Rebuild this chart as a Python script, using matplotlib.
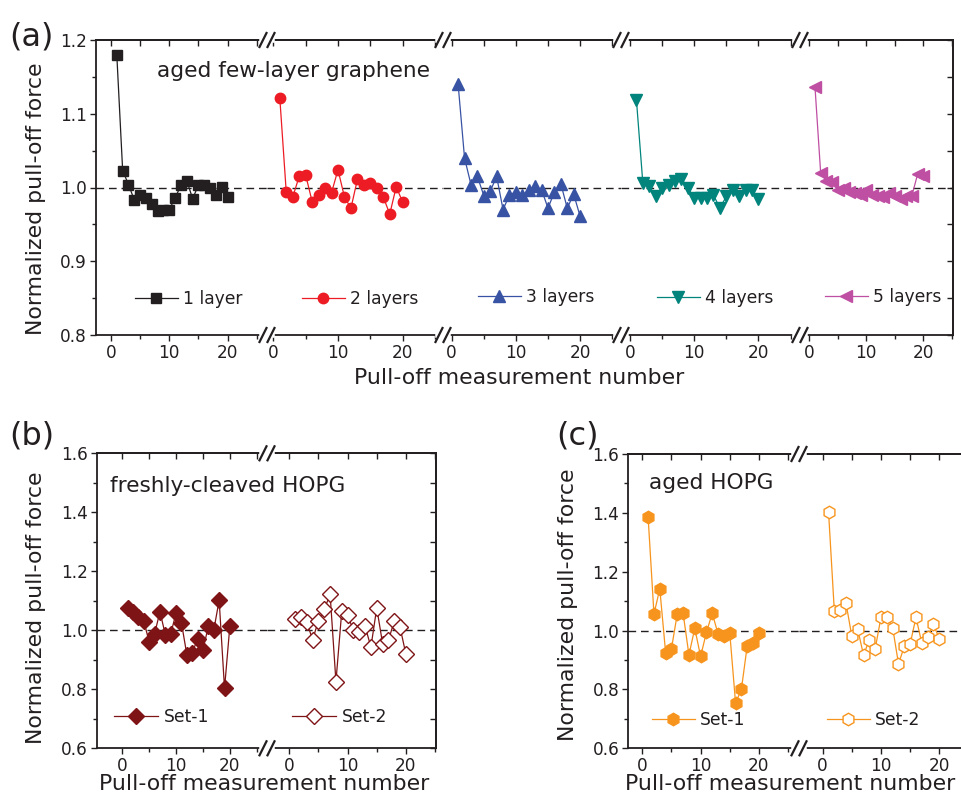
import matplotlib
matplotlib.use("Agg")
import matplotlib.pyplot as plt
from matplotlib.lines import Line2D
from matplotlib.ticker import MultipleLocator, FormatStrFormatter
import numpy as np

# ---------------- data ----------------
meas = list(range(1, 21))

one_layer = [1.179, 1.023, 1.004, 0.983, 0.990, 0.986, 0.978, 0.968, 0.970, 0.970,
             0.986, 1.003, 1.009, 0.985, 1.003, 1.004, 1.000, 0.990, 1.001, 0.987]
two_layers = [1.122, 0.994, 0.987, 1.015, 1.017, 0.981, 0.990, 1.000, 0.993, 1.024,
              0.987, 0.972, 1.011, 1.004, 1.006, 1.000, 0.987, 0.964, 1.001, 0.980]
three_layers = [1.140, 1.040, 1.004, 1.015, 0.989, 0.995, 1.015, 0.970, 0.990, 0.994,
                0.990, 0.996, 1.002, 0.997, 0.972, 0.994, 1.005, 0.972, 0.991, 0.961]
four_layers = [1.119, 1.006, 1.002, 0.988, 1.000, 1.004, 1.009, 1.012, 1.000, 0.986,
               0.986, 0.986, 0.990, 0.972, 0.988, 0.997, 0.988, 0.997, 0.997, 0.984]
five_layers = [1.136, 1.019, 1.009, 1.007, 0.997, 1.000, 0.994, 0.993, 0.990, 0.997,
               0.990, 0.989, 0.987, 0.993, 0.989, 0.985, 0.989, 0.989, 1.018, 1.015]

fresh_set1 = [1.076, 1.063, 1.046, 1.031, 0.960, 0.988, 1.063, 0.985, 0.988, 1.059,
              1.025, 0.917, 0.923, 0.972, 0.934, 1.014, 1.000, 1.102, 0.803, 1.016]
fresh_set2 = [1.039, 1.045, 1.027, 0.968, 1.033, 1.071, 1.122, 0.826, 1.065, 1.051,
              1.000, 0.993, 1.014, 0.943, 1.076, 0.955, 0.966, 1.031, 1.010, 0.919]

aged_set1 = [1.385, 1.056, 1.142, 0.925, 0.938, 1.057, 1.059, 0.917, 1.008, 0.912,
             0.994, 1.059, 0.988, 0.983, 0.993, 0.753, 0.801, 0.949, 0.957, 0.993]
aged_set2 = [1.404, 1.065, 1.070, 1.093, 0.980, 1.005, 0.917, 0.968, 0.938, 1.045,
             1.045, 1.010, 0.887, 0.946, 0.954, 1.045, 0.957, 0.978, 1.022, 0.971]

layer_labels = ["1 layer", "2 layers", "3 layers", "4 layers", "5 layers"]
set_labels = ["Set-1", "Set-2"]

# ---------------- style ----------------
TXT = "#231f20"
plt.rcParams["font.family"] = ["DejaVu Sans"]
plt.rcParams["text.color"] = TXT
plt.rcParams["axes.edgecolor"] = TXT
plt.rcParams["xtick.color"] = TXT
plt.rcParams["ytick.color"] = TXT

W, H = 961, 800
fig = plt.figure(figsize=(W / 100, H / 100), dpi=100)


def fx(px):
    return px / W


def fy(py):
    return 1 - py / H


TICK_FS = 12.2
LAB_FS = 15.8
ANN_FS = 15.6
LEG_FS = 12.3


def make_segment(L, R, T, B, xlim, ylim, ymaj, ymin, first, last, right_spine=True):
    ax = fig.add_axes([fx(L), fy(B), (R - L) / W, (B - T) / H])
    ax.set_xlim(*xlim)
    ax.set_ylim(*ylim)
    ax.patch.set_alpha(0)
    for s in ax.spines.values():
        s.set_linewidth(1.3)
    ax.spines["left"].set_visible(first)
    ax.spines["right"].set_visible(last and right_spine)
    ax.xaxis.set_major_locator(MultipleLocator(10))
    ax.xaxis.set_minor_locator(MultipleLocator(5))
    ax.tick_params(axis="x", which="major", direction="out", length=4.5, width=1.0,
                   labelsize=TICK_FS, pad=2, top=False)
    ax.tick_params(axis="x", which="minor", direction="out", length=3, width=1.0, top=False)
    sec = ax.secondary_xaxis("top")
    sec.xaxis.set_major_locator(MultipleLocator(5))
    sec.tick_params(axis="x", which="major", direction="in", length=4, width=1.0,
                    labeltop=False)
    sec.spines["top"].set_linewidth(1.3)
    if first:
        ax.yaxis.set_major_locator(MultipleLocator(ymaj))
        ax.yaxis.set_minor_locator(MultipleLocator(ymin))
        ax.yaxis.set_major_formatter(FormatStrFormatter("%.1f"))
        ax.tick_params(axis="y", which="major", direction="out", length=4.5, width=1.0,
                       labelsize=TICK_FS, pad=2, right=False)
        ax.tick_params(axis="y", which="minor", direction="out", length=3.2, width=1.0,
                       right=False)
    else:
        ax.tick_params(axis="y", which="both", left=False, right=False, labelleft=False)
    if last and right_spine:
        secy = ax.secondary_yaxis("right")
        secy.yaxis.set_major_locator(MultipleLocator(ymin))
        secy.tick_params(axis="y", which="major", direction="in", length=4, width=1.0,
                         labelright=False)
        secy.spines["right"].set_linewidth(1.3)
    ax.axhline(1.0, color=TXT, lw=1.0, dashes=(5.5, 3.5), zorder=1)
    return ax


def draw_break(xpx, ypx):
    fig.add_artist(Line2D([fx(xpx - 5), fx(xpx + 5)], [fy(ypx), fy(ypx)], color="white",
                          lw=4, transform=fig.transFigure, zorder=20))
    for dx in (-4, 4):
        fig.add_artist(Line2D([fx(xpx + dx - 3.5), fx(xpx + dx + 3.5)],
                              [fy(ypx + 7), fy(ypx - 7)], color=TXT, lw=1.6,
                              transform=fig.transFigure, zorder=21))


def seg_legend(ax, handle, label, x0, y0, hl=2.5):
    ax.legend([handle], [label], loc="center left", bbox_to_anchor=(fx(x0), fy(y0)),
              bbox_transform=fig.transFigure, frameon=False, fontsize=LEG_FS,
              borderpad=0, borderaxespad=0, handlelength=hl, handletextpad=0.3,
              numpoints=1)


# ---------------- panel (a) ----------------
Ta, Ba = 40, 335
a_segs = [  # (L, R, p0, scale)
    (96, 267, 111.0, 5.83),
    (267, 443, 273.3, 6.47),
    (443, 621, 451.7, 6.42),
    (621, 800, 630.0, 6.42),
    (800, 953, 809.3, 5.70),
]
a_data = [one_layer, two_layers, three_layers, four_layers, five_layers]
a_colors = ["#231f20", "#ed1c24", "#3953a4", "#00847c", "#bf4fa3"]
a_markers = ["s", "o", "^", "v", "<"]
a_ms = [6.5, 7.5, 8.5, 8.5, 8.5]
a_leg = [(135, 299), (302, 299), (478, 297), (657, 298), (825, 297)]

for i, (L, R, p0, s) in enumerate(a_segs):
    ax = make_segment(L, R, Ta, Ba, ((L - p0) / s, (R - p0) / s), (0.8, 1.2), 0.1, 0.05,
                      i == 0, i == 4)
    h, = ax.plot(meas, a_data[i], color=a_colors[i], marker=a_markers[i], ms=a_ms[i],
                 lw=0.9, mec=a_colors[i], mfc=a_colors[i], zorder=3, clip_on=False)
    seg_legend(ax, h, layer_labels[i], *a_leg[i], hl=2.5)
for xb in (267, 443, 621, 800):
    draw_break(xb, Ta)
    draw_break(xb, Ba)

fig.text(fx(157), fy(77), "aged few-layer graphene", fontsize=ANN_FS, va="baseline", ha="left")
fig.text(fx(36), fy(199), "Normalized pull-off force", fontsize=LAB_FS, rotation=90,
         ha="center", va="center")
fig.text(fx(519), fy(378), "Pull-off measurement number", fontsize=LAB_FS,
         ha="center", va="center")
fig.text(fx(9), fy(45), "(a)", fontsize=23, va="baseline", ha="left")

# ---------------- panel (b) ----------------
Tb, Bb = 453.3, 748.3
b_segs = [
    (96.7, 267, 122.3, 5.38),
    (267, 436, 289.3, 5.83),
]
b_color = "#7f1416"
b_data = [fresh_set1, fresh_set2]
b_mfc = [b_color, "white"]
b_leg = [(114, 717), (292, 717)]
for i, (L, R, p0, s) in enumerate(b_segs):
    ax = make_segment(L, R, Tb, Bb, ((L - p0) / s, (R - p0) / s), (0.6, 1.6), 0.2, 0.1,
                      i == 0, i == 1)
    h, = ax.plot(meas, b_data[i], color=b_color, marker="D", ms=7.8, lw=0.9,
                 mec=b_color, mfc=b_mfc[i], mew=1.0, zorder=3)
    seg_legend(ax, h, set_labels[i], *b_leg[i], hl=2.6)
draw_break(267, Tb)
draw_break(267, Bb)
fig.text(fx(110), fy(492), "freshly-cleaved HOPG", fontsize=ANN_FS, va="baseline", ha="left")
fig.text(fx(36), fy(608), "Normalized pull-off force", fontsize=LAB_FS, rotation=90,
         ha="center", va="center")
fig.text(fx(264), fy(784), "Pull-off measurement number", fontsize=LAB_FS,
         ha="center", va="center")
fig.text(fx(9), fy(444), "(b)", fontsize=23, va="baseline", ha="left")

# ---------------- panel (c) ----------------
Tc, Bc = 454, 748.3
c_segs = [
    (628.3, 799, 642.3, 5.83),
    (799, 975, 822.7, 5.83),
]
c_color = "#f7941d"
c_data = [aged_set1, aged_set2]
c_mfc = [c_color, "white"]
c_leg = [(652, 720), (827, 720)]
for i, (L, R, p0, s) in enumerate(c_segs):
    ax = make_segment(L, R, Tc, Bc, ((L - p0) / s, (R - p0) / s), (0.6, 1.6), 0.2, 0.1,
                      i == 0, i == 1, right_spine=False)
    h, = ax.plot(meas, c_data[i], color=c_color, marker="h", ms=9, lw=0.9,
                 mec=c_color, mfc=c_mfc[i], mew=1.0, zorder=3)
    seg_legend(ax, h, set_labels[i], *c_leg[i], hl=2.5)
draw_break(799, Tc)
draw_break(799, Bc)
fig.text(fx(649), fy(489), "aged HOPG", fontsize=ANN_FS, va="baseline", ha="left")
fig.text(fx(568), fy(605), "Normalized pull-off force", fontsize=LAB_FS, rotation=90,
         ha="center", va="center")
fig.text(fx(955), fy(784), "Pull-off measurement number", fontsize=LAB_FS,
         ha="right", va="center")
fig.text(fx(556), fy(444), "(c)", fontsize=23, va="baseline", ha="left")

fig.savefig("out.png", dpi=100)
